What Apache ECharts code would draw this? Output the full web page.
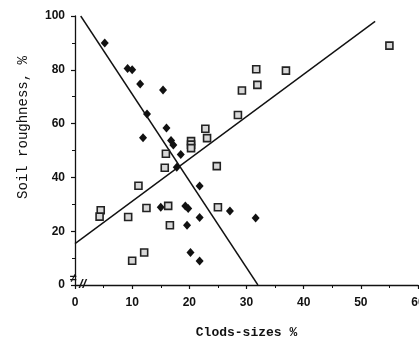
<!DOCTYPE html>
<html><head><meta charset="utf-8">
<script src="https://cdn.jsdelivr.net/npm/echarts@6/dist/echarts.min.js"></script>
<style>html,body{margin:0;padding:0;background:#fff}#c{width:419px;height:338px}</style>
</head><body><div id="c"></div>
<script>
var diamondX = [5.2, 9.2, 10.0, 11.4, 15.4, 12.6, 16.0, 11.9, 16.8, 17.2, 18.5, 17.8, 21.8, 15.0, 19.3, 19.8, 21.8, 27.1, 19.6, 20.2, 21.8, 31.6];
var diamondY = [90, 80.5, 80, 74.7, 72.5, 63.6, 58.4, 54.7, 53.7, 52, 48.5, 43.8, 36.8, 28.9, 29.4, 28.4, 25.1, 27.5, 22.2, 12.1, 8.9, 24.9];
var squareX = [4.5, 4.3, 9.3, 10.0, 11.1, 12.1, 12.5, 15.7, 15.9, 16.3, 16.6, 20.3, 20.3, 20.3, 22.8, 23.1, 24.8, 25.0, 28.5, 29.2, 31.9, 31.7, 36.9, 55.0];
var squareY = [27.8, 25.4, 25.3, 9.0, 36.9, 12.1, 28.6, 43.6, 48.8, 29.4, 22.2, 53.5, 52.2, 50.9, 58.1, 54.6, 44.2, 28.9, 63.2, 72.3, 74.4, 80.2, 79.7, 89.0];
var fallLineX = [1, 32];
var fallLineY = [100, 0];
var riseLineX = [0, 52.5];
var riseLineY = [15.4, 98];
var xTicks = [0, 10, 20, 30, 40, 50, 60];
var yTicks = [0, 20, 40, 60, 80, 100];

function pairs(xs, ys) { return xs.map(function (x, i) { return [x, ys[i]]; }); }

var chart = echarts.init(document.getElementById('c'));
var axisCommon = {
  axisLine: { lineStyle: { color: '#111', width: 1.3 } },
  axisTick: { inside: false, length: 4, lineStyle: { color: '#111', width: 1.2 } },
  minorTick: { show: true, splitNumber: 2, length: 3, lineStyle: { color: '#111', width: 1 } },
  splitLine: { show: false },
  axisLabel: { color: '#111', fontFamily: 'Liberation Sans', fontSize: 12, fontWeight: 'bold' }
};
chart.setOption({
  animation: false,
  grid: { left: 75, right: 1, top: 16, bottom: 53, containLabel: false, outerBoundsMode: 'none' },
  xAxis: Object.assign({}, axisCommon, {
    type: 'value', min: 0, max: 60, interval: 10,
    name: 'Clods-sizes %', nameLocation: 'middle', nameGap: 41,
    nameTextStyle: { fontFamily: 'Liberation Mono', fontSize: 13, fontWeight: 'bold', color: '#111' },
    axisLabel: Object.assign({}, axisCommon.axisLabel, { margin: 12, showMaxLabel: true,
      formatter: function (v) { return xTicks.indexOf(v) >= 0 ? String(v) : ''; } })
  }),
  yAxis: Object.assign({}, axisCommon, {
    type: 'value', min: 0, max: 100, interval: 20,
    name: 'Soil roughness, %', nameLocation: 'middle', nameGap: 45,
    nameTextStyle: { fontFamily: 'Liberation Mono', fontSize: 14, color: '#111', padding: [0, 0, 0, 46] },
    axisLabel: Object.assign({}, axisCommon.axisLabel, { margin: 10,
      formatter: function (v) { return yTicks.indexOf(v) >= 0 ? String(v) : ''; } })
  }),
  series: [
    { type: 'line', data: pairs(fallLineX, fallLineY), symbol: 'none', lineStyle: { color: '#111', width: 1.4 }, z: 2 },
    { type: 'line', data: pairs(riseLineX, riseLineY), symbol: 'none', lineStyle: { color: '#111', width: 1.4 }, z: 2 },
    { type: 'scatter', data: pairs(diamondX, diamondY), symbol: 'diamond', symbolSize: [8, 9],
      itemStyle: { color: '#111', opacity: 1 }, z: 3 },
    { type: 'scatter', data: pairs(squareX, squareY), symbol: 'rect', symbolSize: 7,
      itemStyle: { color: '#d8d8d8', borderColor: '#222', borderWidth: 1.6, opacity: 1 }, z: 3 }
  ]
});
var o = chart.convertToPixel({ gridIndex: 0 }, [0, 0]);
chart.setOption({
  graphic: [
    { type: 'text', left: o[0] + 4, top: o[1] - 7, style: { text: '//', font: 'italic bold 13px Liberation Sans', fill: '#111' } },
    { type: 'text', left: o[0] - 5, top: o[1] - 12, style: { text: '≠', font: 'bold 12px Liberation Sans', fill: '#111' } }
  ]
});
</script></body></html>
